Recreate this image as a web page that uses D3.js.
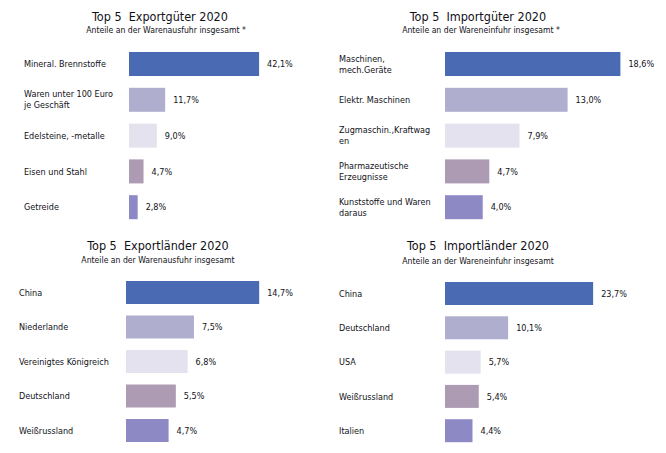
<!DOCTYPE html>
<html>
<head>
<meta charset="utf-8">
<script src="https://cdn.jsdelivr.net/npm/d3@7"></script>
<style>
  body { margin: 0; background: #fff; }
  text { font-family: "DejaVu Sans Condensed", "DejaVu Sans", sans-serif; fill: #111118; }
</style>
</head>
<body>
<script>
// data, one set of arrays per panel
const exportGoods = ["Mineral. Brennstoffe", "Waren unter 100 Euro|je Geschäft", "Edelsteine, -metalle", "Eisen und Stahl", "Getreide"];
const exportGoodsValues = [42.1, 11.7, 9.0, 4.7, 2.8];

const importGoods = ["Maschinen,|mech.Geräte", "Elektr. Maschinen", "Zugmaschin.,Kraftwag|en", "Pharmazeutische|Erzeugnisse", "Kunststoffe und Waren|daraus"];
const importGoodsValues = [18.6, 13.0, 7.9, 4.7, 4.0];

const exportCountries = ["China", "Niederlande", "Vereinigtes Königreich", "Deutschland", "Weißrussland"];
const exportCountriesValues = [14.7, 7.5, 6.8, 5.5, 4.7];

const importCountries = ["China", "Deutschland", "USA", "Weißrussland", "Italien"];
const importCountriesValues = [23.7, 10.1, 5.7, 5.4, 4.4];

const titles = ["Top 5  Exportgüter 2020", "Top 5  Importgüter 2020", "Top 5  Exportländer 2020", "Top 5  Importländer 2020"];
const subtitles = ["Anteile an der Warenausfuhr insgesamt *", "Anteile an der Wareneinfuhr insgesamt *",
                   "Anteile an der Warenausfuhr insgesamt", "Anteile an der Wareneinfuhr insgesamt"];

const barColors = ["#4a6ab3", "#b0aecf", "#e3e2ee", "#ad9bb3", "#8d89c4"];

const de = d3.formatLocale({decimal: ",", thousands: ".", grouping: [3], currency: ["", " €"]});
const fmt = v => de.format(".1f")(v) + "%";

const svg = d3.select("body").append("svg")
  .attr("width", 666)
  .attr("height", 453);

// layout of each panel
const panels = [
  {cats: exportGoods, vals: exportGoodsValues, labelX: 24, barX: 129, k: 3.09, top: 52, step: 35.8, barH: 24,
   titleX: 160, titleY: 21, subX: 166, subY: 33},
  {cats: importGoods, vals: importGoodsValues, labelX: 339, barX: 445, k: 9.43, top: 52, step: 35.8, barH: 24,
   titleX: 478, titleY: 21, subX: 481, subY: 33},
  {cats: exportCountries, vals: exportCountriesValues, labelX: 19, barX: 126, k: 9.06, top: 281, step: 34.5, barH: 23,
   titleX: 158, titleY: 250, subX: 158, subY: 263},
  {cats: importCountries, vals: importCountriesValues, labelX: 339, barX: 445, k: 6.25, top: 282, step: 34.3, barH: 23,
   titleX: 478, titleY: 250, subX: 478, subY: 264}
];

panels.forEach((p, i) => {
  const g = svg.append("g");
  const maxV = d3.max(p.vals);
  const x = d3.scaleLinear().domain([0, maxV]).range([p.barX, p.barX + p.k * maxV]);
  const pad = (p.step - p.barH) / p.step;
  const y = d3.scaleBand()
    .domain(p.cats)
    .range([p.top, p.top + p.step * (p.cats.length - pad)])
    .paddingInner(pad)
    .paddingOuter(0);

  g.append("text")
    .attr("x", p.titleX)
    .attr("y", p.titleY)
    .attr("text-anchor", "middle")
    .style("font-size", "12.5px")
    .style("white-space", "pre")
    .text(titles[i]);

  g.append("text")
    .attr("x", p.subX)
    .attr("y", p.subY)
    .attr("text-anchor", "middle")
    .style("font-size", "8.6px")
    .text(subtitles[i]);

  const rows = g.selectAll(".row")
    .data(p.cats.map((c, j) => ({c, v: p.vals[j], j})))
    .join("g")
    .attr("class", "row");

  rows.append("rect")
    .attr("x", x(0))
    .attr("y", d => y(d.c))
    .attr("width", d => x(d.v) - x(0))
    .attr("height", y.bandwidth())
    .style("fill", d => barColors[d.j]);

  rows.append("text")
    .attr("x", d => x(d.v) + 8)
    .attr("y", d => y(d.c) + y.bandwidth() / 2)
    .attr("dy", "0.35em")
    .style("font-size", "9px")
    .text(d => fmt(d.v));

  // category labels, "|" splits into two lines
  rows.each(function(d) {
    const lines = d.c.split("|");
    const lh = 11;
    const cy = y(d.c) + y.bandwidth() / 2;
    const t = d3.select(this).append("text")
      .attr("x", p.labelX)
      .style("font-size", "9px");
    lines.forEach((ln, k) => {
      t.append("tspan")
        .attr("x", p.labelX)
        .attr("y", cy + (k - (lines.length - 1) / 2) * lh)
        .attr("dy", "0.35em")
        .text(ln);
    });
  });
});
</script>
</body>
</html>
